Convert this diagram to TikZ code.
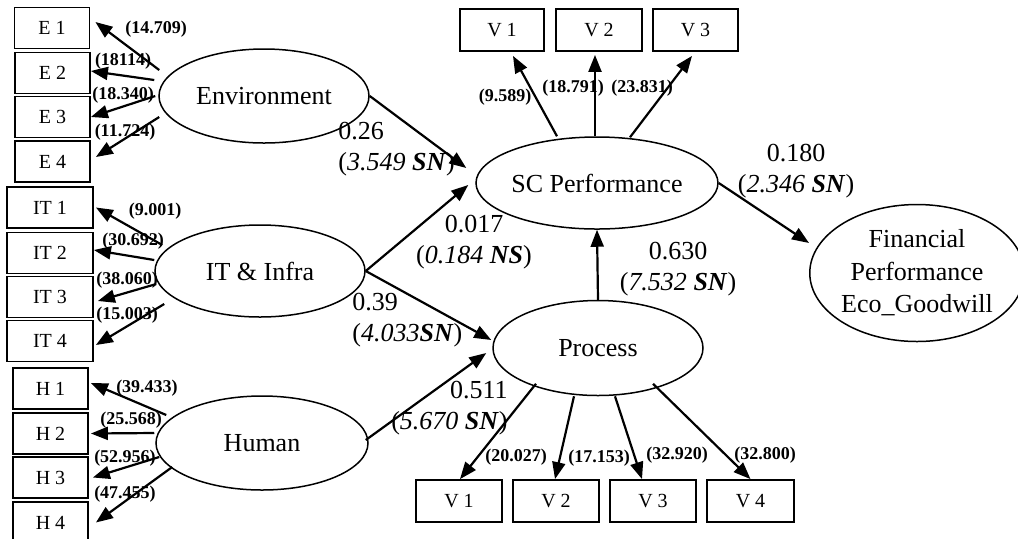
\documentclass[tikz,border=0pt]{standalone}
\usepackage{fontspec}
\setmainfont{Liberation Serif}
\usetikzlibrary{arrows.meta,shapes.geometric}
\tikzset{
  box/.style={draw, line width=0.9pt, inner sep=0pt, minimum width=#1, minimum height=20.5pt, font=\fontsize{10}{12}\selectfont},
  box/.default=37.5pt,
  lat/.style={draw, ellipse, line width=0.75pt, inner sep=0pt, font=\fontsize{13}{15.5}\selectfont},
  arr/.style={-{Triangle[length=8.5pt,width=6.5pt]}, line width=1.1pt},
  tv/.style={inner sep=0pt, font=\bfseries\fontsize{9}{11}\selectfont},
  coef/.style={inner sep=0pt, font=\fontsize{13}{15.5}\selectfont}
}
\begin{document}
\begin{tikzpicture}[x=0.5pt,y=-0.5pt]
          \useasboundingbox (0,0) rectangle (1018,538);
          % indicators
          \node[box] (E1) at (52,28) {E 1};
          \node[box] (E2) at (52.5,73) {E 2};
          \node[box] (E3) at (52.5,117) {E 3};
          \node[box] (E4) at (52.5,161.5) {E 4};
          \node[box=43pt] (IT1) at (50,207.5) {IT 1};
          \node[box=43pt] (IT2) at (50,253) {IT 2};
          \node[box=43pt] (IT3) at (50,297) {IT 3};
          \node[box=43pt] (IT4) at (50,341) {IT 4};
          \node[box] (H1) at (50.5,388.5) {H 1};
          \node[box] (H2) at (50.5,433.5) {H 2};
          \node[box] (H3) at (50.5,477.5) {H 3};
          \node[box] (H4) at (50.5,522.5) {H 4};
          \node[box=42pt, minimum height=21pt] (SV1) at (502,30) {V 1};
          \node[box=43pt, minimum height=21pt] (SV2) at (599,30) {V 2};
          \node[box=42.5pt, minimum height=21pt] (SV3) at (695.5,30) {V 3};
          \node[box=43pt, minimum height=21pt] (PV1) at (459,501) {V 1};
          \node[box=43pt, minimum height=21pt] (PV2) at (556,501) {V 2};
          \node[box=43pt, minimum height=21pt] (PV3) at (653,501) {V 3};
          \node[box=43.5pt, minimum height=21pt] (PV4) at (750.5,501) {V 4};
          % constructs
          \node[lat, minimum width=105pt, minimum height=47pt] (Env) at (264,96) {Environment};
          \node[lat, minimum width=105pt, minimum height=46pt] (IT) at (260,271) {IT \& Infra};
          \node[lat, minimum width=106pt, minimum height=47pt] (Hum) at (262,443) {Human};
          \node[lat, minimum width=105pt, minimum height=46pt] (SC) at (597,183) {SC Performance};
          \node[lat, minimum width=105pt, minimum height=47.5pt] (Proc) at (598,348) {Process};
          \node[lat, minimum width=99pt, minimum height=68.5pt, align=center, font=\fontsize{13}{16.25}\selectfont] (Fin) at (917,273) {Financial\\Performance\\Eco\_Goodwill};
          % loadings
          \draw[arr] ([shift={(1,-26)}]Env.west) to ([shift={(5,-6)}]E1.east);
          \draw[arr] ([shift={(-4,-16)}]Env.west) to ([shift={(0,-2)}]E2.east);
          \draw[arr] ([shift={(-3,0)}]Env.west) to (E3.east);
          \draw[arr] ([shift={(1,21)}]Env.west) to ([shift={(5,-4.5)}]E4.east);
          \draw[arr] ([shift={(8,-26)}]IT.west) to ([shift={(2,0)}]IT1.east);
          \draw[arr] ([shift={(0,-11)}]IT.west) to ([shift={(0,-3)}]IT2.east);
          \draw[arr] ([shift={(2,13)}]IT.west) to ([shift={(4,4)}]IT3.east);
          \draw[arr] ([shift={(10,33)}]IT.west) to ([shift={(2,4)}]IT4.east);
          \draw[arr] ([shift={(11,-28)}]Hum.west) to ([shift={(2,-5.5)}]H1.east);
          \draw[arr] ([shift={(-1,-10)}]Hum.west) to ([shift={(2,0)}]H2.east);
          \draw[arr] ([shift={(4,14)}]Hum.west) to ([shift={(4,0)}]H3.east);
          \draw[arr] ([shift={(17,24)}]Hum.west) to ([shift={(7,0)}]H4.east);
          \draw[arr] ([shift={(-40,0)}]SC.north) to ([shift={(11,4)}]SV1.south);
          \draw[arr] ([shift={(-2,0)}]SC.north) to ([shift={(-4,3)}]SV2.south);
          \draw[arr] ([shift={(33,1)}]SC.north) to ([shift={(-3.5,4)}]SV3.south);
          \draw[arr] ([shift={(-62,-12.5)}]Proc.south) to ([shift={(1,0)}]PV1.north);
          \draw[arr] ([shift={(-24,0)}]Proc.south) to ([shift={(-1,0)}]PV2.north);
          \draw[arr] ([shift={(17,0)}]Proc.south) to ([shift={(-11,0)}]PV3.north);
          \draw[arr] ([shift={(55,-12.5)}]Proc.south) to (PV4.north);
          % paths
          \draw[arr] (Env.east) to ([shift={(-9,-15)}]SC.west);
          \draw[arr] (IT.east) to ([shift={(-7,2)}]SC.west);
          \draw[arr] (IT.east) to ([shift={(-1,-8)}]Proc.west);
          \draw[arr] ([shift={(-3,-3)}]Hum.east) to ([shift={(-6,5)}]Proc.west);
          \draw[arr] (Proc.north) to (SC.south);
          \draw[arr] (SC.east) to ([shift={(0,-30)}]Fin.west);
          % t values
          \node[tv] (tE1) at (156,29) {(14.709)};
          \node[tv] (tE2) at (123,61) {(18114)};
          \node[tv] (tE3) at (123,95) {(18.340)};
          \node[tv] (tE4) at (125,132) {(11.724)};
          \node[tv] (tIT1) at (155,211) {(9.001)};
          \node[tv] (tIT2) at (133,241) {(30.692)};
          \node[tv] (tIT3) at (127,280) {(38.060)};
          \node[tv] (tIT4) at (127,315) {(15.003)};
          \node[tv] (tH1) at (147,388) {(39.433)};
          \node[tv] (tH2) at (131,420) {(25.568)};
          \node[tv] (tH3) at (125,458) {(52.956)};
          \node[tv] (tH4) at (125,494) {(47.455)};
          \node[tv] (tSV1) at (505,97) {(9.589)};
          \node[tv] (tSV2) at (573,88) {(18.791)};
          \node[tv] (tSV3) at (642,88) {(23.831)};
          \node[tv] (tPV1) at (516,457) {(20.027)};
          \node[tv] (tPV2) at (599,458) {(17.153)};
          \node[tv] (tPV3) at (677,455) {(32.920)};
          \node[tv] (tPV4) at (765,455) {(32.800)};
          % path coefficients
          \node[coef, align=left, anchor=west] (cEnv) at (338,149) {0.26\\(\textit{3.549 \textbf{SN}})};
          \node[coef, align=center] (cITSC) at (474,242) {0.017\\(\textit{0.184 \textbf{NS}})};
          \node[coef, align=left, anchor=west] (cITP) at (352,320) {0.39\\(\textit{4.033\textbf{SN}})};
          \node[coef, align=right, anchor=east] (cHum) at (508,408) {0.511\\(\textit{5.670 \textbf{SN}})};
          \node[coef, align=center] (cProc) at (678,269) {0.630\\(\textit{7.532 \textbf{SN}})};
          \node[coef, align=center] (cSC) at (796,171) {0.180\\(\textit{2.346 \textbf{SN}})};
        \end{tikzpicture}
\end{document}
